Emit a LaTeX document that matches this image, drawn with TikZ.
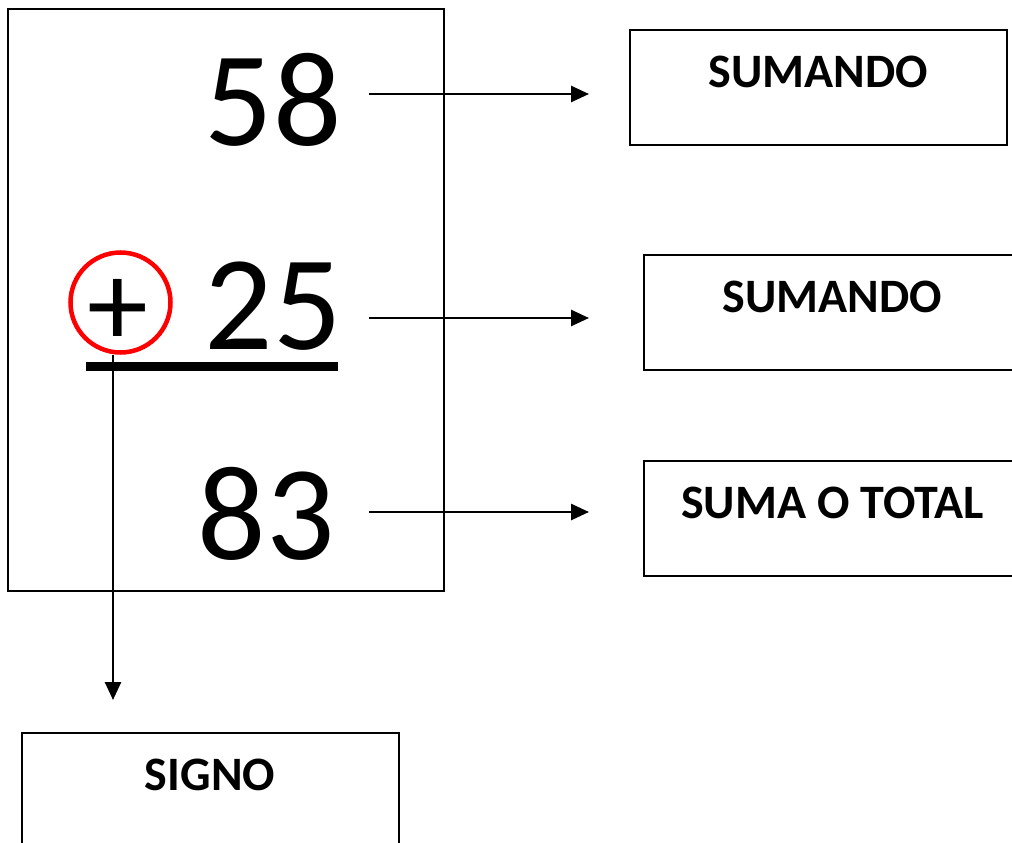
\documentclass[tikz,border=0pt]{standalone}
\usepackage{fontspec}
\setmainfont{Carlito}
\usetikzlibrary{positioning,arrows.meta}

\begin{document}
\begin{tikzpicture}[x=1pt,y=-1pt,
caja/.style={draw,line width=2pt,minimum width=377pt,minimum height=115pt,inner sep=0pt},
etiqueta/.style={font=\fontsize{48}{50}\selectfont\bfseries,inner sep=0pt},
numero/.style={font=\fontsize{135}{140}\selectfont,inner sep=0pt},
flecha/.style={-{Triangle[length=18pt,width=16pt]},line width=2.6pt}]
\useasboundingbox (0,0) rectangle (1012,843);
\node[draw,line width=2pt,minimum width=436pt,minimum height=582pt,inner sep=0pt] (marco) at (226,300) {};
\node[numero] (n58) at (273,100) {58};
\node[numero] (n25) at (273,306) {25};
\node[numero] (n83) at (266,514) {83};
\node[numero,font=\fontsize{122}{124}\selectfont,anchor=base] (mas) at (118,346) {+};
\node[circle,draw=red,line width=4.5pt,minimum size=100pt,inner sep=0pt] (anillo) at (120.5,302.5) {};
\draw[line width=9pt] (86,366) -- (338,366);
% cajas
\node[caja] (suma1) at (818.5,87.5) {};
\node[caja] (suma2) at (832.5,312.5) {};
\node[caja] (total) at (832.5,518.5) {};
\node[caja] (signo) at (210,790.5) {};
\node[etiqueta,below=27pt of suma1.north] (t1) {SUMANDO};
\node[etiqueta,below=27pt of suma2.north] (t2) {SUMANDO};
\node[etiqueta,below=27pt of total.north] (t3) {SUMA O TOTAL};
\node[etiqueta,below=27pt of signo.north] (t4) {SIGNO};
% flechas
\coordinate (de58) at (369,94);
\coordinate (de25) at (369,318);
\coordinate (de83) at (369,512);
\coordinate (bajo) at (113,700);
\draw[flecha,shorten >=40pt] (de58) -- (de58 -| suma1.west);
\draw[flecha,shorten >=54pt] (de25) -- (de25 -| suma2.west);
\draw[flecha,shorten >=54pt] (de83) -- (de83 -| total.west);
\draw[flecha] (anillo.south -| bajo) -- (bajo);
\end{tikzpicture}
\end{document}
